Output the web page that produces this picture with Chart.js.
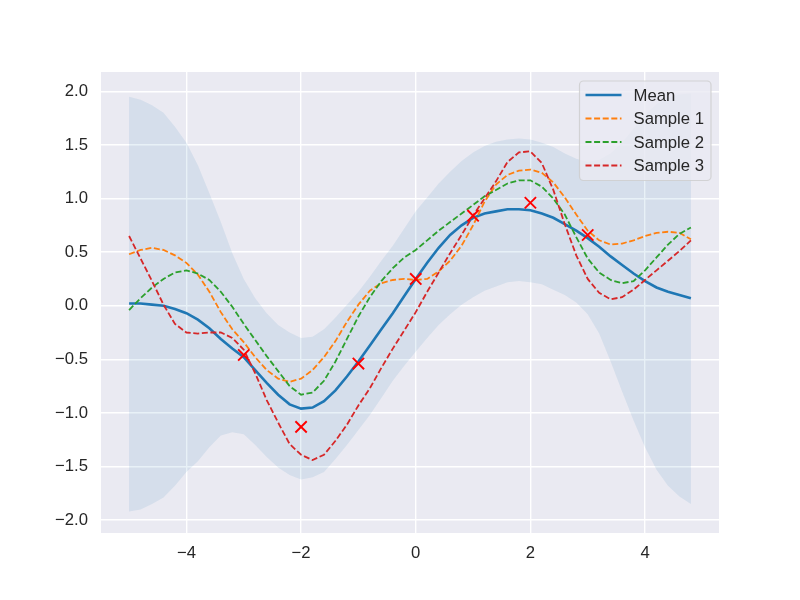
<!DOCTYPE html>
<html>
<head>
<meta charset="utf-8">
<script src="https://cdn.jsdelivr.net/npm/chart.js@4.4.1/dist/chart.umd.min.js"></script>
<style>
  html, body { margin: 0; padding: 0; background: #fff; }
  canvas { display: block; }
</style>
</head>
<body>
<canvas id="chart" width="800" height="600"></canvas>
<script>
// grid the curves were evaluated on
const xs = [-5.0, -4.8, -4.6, -4.4, -4.2, -4.0, -3.8, -3.6, -3.4, -3.2,
            -3.0, -2.8, -2.6, -2.4, -2.2, -2.0, -1.8, -1.6, -1.4, -1.2,
            -1.0, -0.8, -0.6, -0.4, -0.2, 0.0, 0.2, 0.4, 0.6, 0.8,
            1.0, 1.2, 1.4, 1.6, 1.8, 2.0, 2.2, 2.4, 2.6, 2.8,
            3.0, 3.2, 3.4, 3.6, 3.8, 4.0, 4.2, 4.4, 4.6, 4.8];

const meanY = [0.02, 0.02, 0.01, 0.00, -0.03, -0.07, -0.13, -0.21, -0.31, -0.40,
               -0.48, -0.60, -0.72, -0.83, -0.92, -0.96, -0.95, -0.89, -0.79, -0.66,
               -0.52, -0.37, -0.22, -0.07, 0.09, 0.25, 0.40, 0.54, 0.66, 0.75,
               0.82, 0.86, 0.88, 0.90, 0.90, 0.89, 0.86, 0.82, 0.76, 0.70,
               0.63, 0.55, 0.46, 0.38, 0.30, 0.23, 0.17, 0.13, 0.10, 0.07];

const upperY = [1.95, 1.92, 1.87, 1.80, 1.67, 1.52, 1.31, 1.05, 0.78, 0.49,
                0.25, 0.07, -0.07, -0.18, -0.25, -0.30, -0.29, -0.22, -0.11, 0.01,
                0.13, 0.27, 0.42, 0.56, 0.72, 0.88, 1.01, 1.14, 1.25, 1.35,
                1.43, 1.49, 1.53, 1.55, 1.56, 1.55, 1.52, 1.48, 1.42, 1.37,
                1.34, 1.36, 1.42, 1.52, 1.65, 1.78, 1.88, 1.94, 1.97, 1.98];

const lowerY = [-1.92, -1.90, -1.85, -1.79, -1.68, -1.55, -1.45, -1.32, -1.21, -1.18,
                -1.20, -1.30, -1.41, -1.51, -1.58, -1.62, -1.60, -1.55, -1.43, -1.30,
                -1.16, -1.02, -0.86, -0.70, -0.56, -0.43, -0.30, -0.18, -0.08, 0.01,
                0.08, 0.14, 0.18, 0.22, 0.23, 0.22, 0.20, 0.15, 0.10, 0.03,
                -0.08, -0.26, -0.52, -0.80, -1.07, -1.32, -1.53, -1.68, -1.78, -1.85];

const sample1 = [0.48, 0.52, 0.54, 0.52, 0.47, 0.40, 0.29, 0.13, -0.06, -0.22,
                 -0.34, -0.48, -0.60, -0.68, -0.71, -0.68, -0.60, -0.48, -0.33, -0.15,
                 0.01, 0.14, 0.21, 0.24, 0.25, 0.24, 0.25, 0.32, 0.42, 0.56,
                 0.75, 0.97, 1.13, 1.22, 1.26, 1.27, 1.24, 1.15, 1.01, 0.85,
                 0.70, 0.61, 0.57, 0.58, 0.61, 0.65, 0.68, 0.69, 0.68, 0.62];

const sample2 = [-0.04, 0.07, 0.17, 0.25, 0.31, 0.33, 0.30, 0.24, 0.13, -0.01,
                 -0.17, -0.32, -0.47, -0.61, -0.75, -0.83, -0.81, -0.70, -0.52, -0.31,
                 -0.10, 0.08, 0.23, 0.35, 0.45, 0.52, 0.61, 0.70, 0.78, 0.86,
                 0.94, 1.02, 1.08, 1.14, 1.17, 1.17, 1.11, 1.00, 0.85, 0.64,
                 0.44, 0.31, 0.24, 0.21, 0.23, 0.33, 0.45, 0.57, 0.67, 0.73];

const sample3 = [0.65, 0.44, 0.23, 0.01, -0.17, -0.25, -0.26, -0.25, -0.25, -0.30,
                 -0.41, -0.63, -0.88, -1.09, -1.29, -1.39, -1.44, -1.39, -1.26, -1.11,
                 -0.93, -0.77, -0.58, -0.40, -0.23, -0.06, 0.13, 0.31, 0.49, 0.66,
                 0.84, 1.00, 1.16, 1.34, 1.43, 1.44, 1.33, 1.08, 0.76, 0.47,
                 0.25, 0.12, 0.06, 0.08, 0.15, 0.24, 0.33, 0.42, 0.51, 0.61];

// noisy training points
const obsX = [-3, -2, -1, 0, 1, 2, 3];
const obsY = [-0.46, -1.13, -0.54, 0.25, 0.84, 0.96, 0.66];

const xTicks = [-4, -2, 0, 2, 4];
const yTicks = [-2.0, -1.5, -1.0, -0.5, 0.0, 0.5, 1.0, 1.5, 2.0];
const legendLabels = ['Mean', 'Sample 1', 'Sample 2', 'Sample 3'];

const fontFamily = '"Liberation Sans", Arial, sans-serif';
const fontSize = 16.7;
const textColor = '#262626';
const dash = [6, 2.6];

const fmt = (v, digits) => v.toFixed(digits).replace('-', '\u2212');
const toPoints = (ys, xv) => ys.map((y, i) => ({ x: (xv || xs)[i], y: y }));

// seaborn darkgrid background behind the plot area
const plotBackground = {
    id: 'plotBackground',
    beforeDraw(chart) {
        const { ctx, chartArea } = chart;
        ctx.save();
        ctx.fillStyle = '#eaeaf2';
        ctx.fillRect(chartArea.left, chartArea.top, chartArea.right - chartArea.left, chartArea.bottom - chartArea.top);
        ctx.restore();
    }
};

// matplotlib style legend box in the upper right corner
const legendBox = {
    id: 'legendBox',
    afterDraw(chart) {
        const { ctx, chartArea } = chart;
        const items = chart.data.datasets.filter(d => legendLabels.includes(d.label));
        ctx.save();
        ctx.font = fontSize + 'px ' + fontFamily;
        const textW = Math.max(...items.map(d => ctx.measureText(d.label).width));
        const padX = 6, handleW = 36, gap = 12, rowH = 23.5;
        const w = padX + handleW + gap + textW + padX + 1;
        const h = 14 + (items.length - 1) * rowH + 15;
        const x0 = chartArea.right - 8 - w;
        const y0 = chartArea.top + 9;

        ctx.beginPath();
        if (ctx.roundRect) {
            ctx.roundRect(x0, y0, w, h, 4);
        } else {
            ctx.rect(x0, y0, w, h);
        }
        ctx.fillStyle = 'rgba(234, 234, 242, 0.8)';
        ctx.fill();
        ctx.strokeStyle = 'rgba(204, 204, 204, 0.8)';
        ctx.lineWidth = 1.2;
        ctx.stroke();

        items.forEach((d, i) => {
            const cy = y0 + 14 + i * rowH;
            ctx.beginPath();
            ctx.setLineDash(d.borderDash || []);
            ctx.strokeStyle = d.borderColor;
            ctx.lineWidth = d.borderWidth;
            ctx.moveTo(x0 + padX, cy);
            ctx.lineTo(x0 + padX + handleW, cy);
            ctx.stroke();
            ctx.setLineDash([]);
            ctx.fillStyle = textColor;
            ctx.textBaseline = 'middle';
            ctx.textAlign = 'left';
            ctx.fillText(d.label, x0 + padX + handleW + gap, cy + 1);
        });
        ctx.restore();
    }
};

const tickFont = { family: fontFamily, size: fontSize };
const gridStyle = { color: '#ffffff', lineWidth: 1.4, drawTicks: false };

new Chart(document.getElementById('chart'), {
    type: 'line',
    data: {
        datasets: [{
            label: 'Mean',
            data: toPoints(meanY),
            borderColor: '#1f77b4',
            borderWidth: 2.6,
            pointRadius: 0,
            order: 5
        }, {
            label: 'Sample 1',
            data: toPoints(sample1),
            borderColor: '#ff7f0e',
            borderWidth: 1.8,
            borderDash: dash,
            pointRadius: 0,
            order: 4
        }, {
            label: 'Sample 2',
            data: toPoints(sample2),
            borderColor: '#2ca02c',
            borderWidth: 1.8,
            borderDash: dash,
            pointRadius: 0,
            order: 3
        }, {
            label: 'Sample 3',
            data: toPoints(sample3),
            borderColor: '#d62728',
            borderWidth: 1.8,
            borderDash: dash,
            pointRadius: 0,
            order: 2
        }, {
            label: 'Observations',
            data: toPoints(obsY, obsX),
            showLine: false,
            pointStyle: 'crossRot',
            pointRadius: 8,
            borderColor: '#ff0000',
            borderWidth: 1.9,
            order: 0
        }, {
            label: 'Upper',
            data: toPoints(upperY),
            fill: '+1',
            backgroundColor: 'rgba(31, 119, 180, 0.1)',
            borderWidth: 0,
            pointRadius: 0,
            order: 10
        }, {
            label: 'Lower',
            data: toPoints(lowerY),
            fill: false,
            borderWidth: 0,
            pointRadius: 0,
            order: 10
        }]
    },
    options: {
        responsive: false,
        animation: false,
        devicePixelRatio: 1,
        layout: { padding: { top: 72, right: 81, left: 0, bottom: 0 } },
        plugins: {
            legend: { display: false },
            tooltip: { enabled: false }
        },
        scales: {
            x: {
                type: 'linear',
                min: -5.49,
                max: 5.29,
                afterBuildTicks: s => { s.ticks = xTicks.map(v => ({ value: v })); },
                afterFit: s => { s.height = 67; },
                grid: gridStyle,
                border: { display: false },
                ticks: {
                    padding: 10,
                    color: textColor,
                    font: tickFont,
                    maxRotation: 0,
                    callback: v => fmt(v, 0)
                }
            },
            y: {
                type: 'linear',
                min: -2.12,
                max: 2.18,
                afterBuildTicks: s => { s.ticks = yTicks.map(v => ({ value: v })); },
                afterFit: s => { s.width = 101; },
                grid: gridStyle,
                border: { display: false },
                ticks: {
                    padding: 13,
                    color: textColor,
                    font: tickFont,
                    callback: v => fmt(v, 1)
                }
            }
        }
    },
    plugins: [plotBackground, legendBox]
});
</script>
</body>
</html>
